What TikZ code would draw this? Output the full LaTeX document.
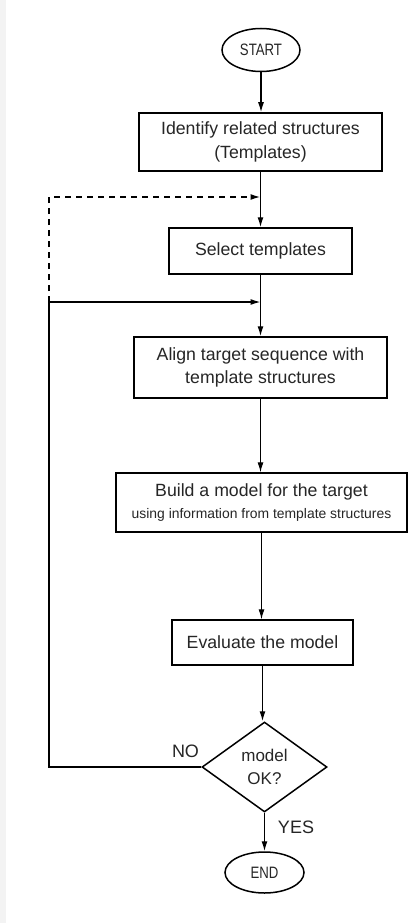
\documentclass[tikz,border=0pt]{standalone}
\usepackage{fontspec}
\setmainfont{Liberation Sans}
\usetikzlibrary{shapes.geometric,arrows.meta,calc}
\definecolor{txt}{HTML}{262626}
\definecolor{strip}{HTML}{F3F3F3}
\newcommand{\narrowtxt}[1]{\scalebox{0.8}[1]{#1}}
\begin{document}
\begin{tikzpicture}[x=1pt,y=1pt,
  procbox/.style={draw=black, line width=1.5pt, inner sep=0pt, align=center,
    font=\fontsize{17.7}{23.5}\selectfont, text=txt},
  term/.style={ellipse, draw=black, line width=1.5pt, inner sep=0pt,
    font=\fontsize{16.5}{18}\selectfont, text=txt},
  decision/.style={diamond, draw=black, line width=1.5pt, inner sep=0pt, align=center,
    font=\fontsize{17}{23}\selectfont, text=txt},
  lbl/.style={inner sep=0pt, font=\fontsize{18}{20}\selectfont, text=txt},
  conn/.style={line width=1.3pt, -{Latex[length=10pt,width=6pt]}},
  thinconn/.style={line width=1pt, -{Latex[length=10pt,width=6pt]}},
  dashconn/.style={line width=1.6pt, dash pattern=on 6pt off 5pt, -{Latex[length=10pt,width=6pt]}}
]
\useasboundingbox (0,0) rectangle (414,-923);
\fill[white] (0,0) rectangle (414,-923);
\fill[strip] (0,0) rectangle (6,-923);

\node[term, minimum width=78pt, minimum height=43pt] (start) at (261,-50) {\narrowtxt{START}};
\node[procbox, minimum width=243pt, minimum height=58pt] (ident) at (260.5,-142)
  {Identify related structures\\(Templates)};
\node[procbox, minimum width=183pt, minimum height=46pt] (select) at (260.5,-251)
  {Select templates};
\node[procbox, minimum width=253pt, minimum height=61pt] (align) at (260.5,-367.5)
  {Align target sequence with\\template structures};
\node[procbox, minimum width=291pt, minimum height=59pt] (build) at (261.5,-502.5)
  {Build a model for the target\\[-1pt]{\fontsize{13.9}{16}\selectfont using information from template structures}};
\node[procbox, minimum width=181pt, minimum height=45pt] (eval) at (262.5,-642.5)
  {Evaluate the model};
\node[decision, minimum width=125pt, minimum height=90pt, aspect=1.39] (ok) at (264.5,-767)
  {model\\OK?};
\node[term, minimum width=79pt, minimum height=41pt] (end) at (264.5,-872.5) {\narrowtxt{END}};

\node[lbl] (no) at (185.5,-751) {NO};
\node[lbl] (yes) at (296,-827) {YES};

\coordinate (dj) at (260.5,-197);
\coordinate (sj) at (260.5,-302);
\coordinate (dl) at (49,-197);
\coordinate (sl) at (49,-302);
\coordinate (bl) at (49,-767);

\draw[conn] (start.south) -- (start.south |- ident.north);
\draw[conn] (ident.south) -- (ident.south |- select.north);
\draw[conn] (select.south) -- (select.south |- align.north);
\draw[thinconn] (align.south) -- (align.south |- build.north);
\draw[thinconn] (build.south) -- (build.south |- eval.north);
\draw[conn] (eval.south) -- (eval.south |- ok.north);
\draw[conn] (ok.south) -- (ok.south |- end.north);

\draw[dashconn] (sl) -- (dl) -- (dj);
\draw[conn] (ok.west) -- (bl) -- (sl) -- (sj);
\end{tikzpicture}
\end{document}
